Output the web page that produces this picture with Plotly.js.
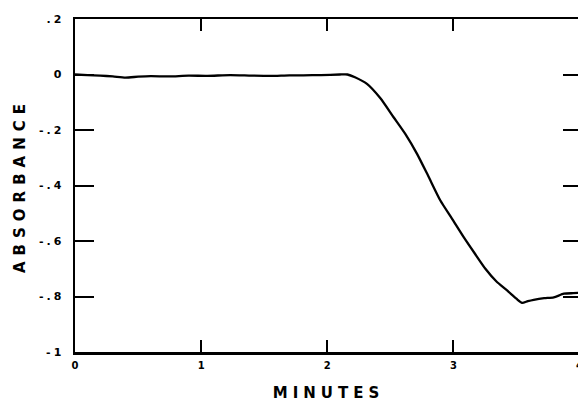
<!DOCTYPE html>
<html>
<head>
<meta charset="utf-8">
<script src="https://cdn.plot.ly/plotly-3.0.1.min.js"></script>
<style>
html, body { margin: 0; padding: 0; overflow: hidden; background: #fff; }
#chart { width: 592px; height: 402px; }
.g-xtitle text { letter-spacing: 5px; }
.g-ytitle text { letter-spacing: 6px; }
.ytick text { letter-spacing: 3px; }
</style>
</head>
<body>
<div id="chart"></div>
<script>
// Time (minutes)
const minutes = [0, 0.1, 0.2, 0.3, 0.4, 0.5, 0.6, 0.75, 0.9, 1.05, 1.23, 1.4, 1.55, 1.7, 1.81, 1.95, 2.1, 2.16,
  2.22, 2.315, 2.42, 2.526, 2.62, 2.712, 2.8, 2.897, 2.99, 3.082, 3.17, 3.254, 3.34, 3.426, 3.5, 3.545,
  3.59, 3.637, 3.72, 3.796, 3.876, 3.95, 4.0];
// Absorbance
const absorbance = [0, -0.002, -0.004, -0.007, -0.011, -0.008, -0.006, -0.007, -0.004, -0.005, -0.002, -0.004,
  -0.005, -0.003, -0.003, -0.002, 0.0, 0.0,
  -0.01, -0.034, -0.085, -0.154, -0.215, -0.286, -0.365, -0.454, -0.52, -0.586, -0.645, -0.700, -0.745,
  -0.778, -0.808, -0.823, -0.817, -0.812, -0.806, -0.803, -0.790, -0.788, -0.787];

const xTickVals = [0, 1, 2, 3, 4];
const xTickText = ['0', '1', '2', '3', '4'];
const yTickVals = [0.2, 0, -0.2, -0.4, -0.6, -0.8, -1];
const yTickText = ['.2', '0', '-.2', '-.4', '-.6', '-.8', '-1'];

const xTickFont = { family: 'DejaVu Sans', size: 10, color: '#000', weight: 'bold' };
const yTickFont = { family: 'DejaVu Sans', size: 11, color: '#000', weight: 'bold' };
const titleFont = { family: 'DejaVu Sans', size: 15, color: '#000', weight: 'bold' };

Plotly.newPlot('chart', [{
  x: minutes,
  y: absorbance,
  type: 'scatter',
  mode: 'lines',
  line: { color: '#000', width: 2.3, shape: 'spline', smoothing: 0.6 },
  hoverinfo: 'skip'
}], {
  width: 592,
  height: 402,
  margin: { l: 75, r: 10, t: 19, b: 50 },
  paper_bgcolor: '#fff',
  plot_bgcolor: '#fff',
  showlegend: false,
  xaxis: {
    range: [0, 4.02],
    tickvals: xTickVals,
    ticktext: xTickText,
    ticks: 'inside',
    ticklen: 12,
    tickwidth: 2,
    tickcolor: '#000',
    showline: true,
    linewidth: 2.5,
    linecolor: '#000',
    mirror: 'ticks',
    showgrid: false,
    zeroline: false,
    tickfont: xTickFont,
    ticklabelstandoff: 2,
    title: { text: 'MINUTES', font: titleFont, standoff: 23 }
  },
  yaxis: {
    range: [-1, 0.2],
    tickvals: yTickVals,
    ticktext: yTickText,
    ticks: 'inside',
    ticklen: 19,
    tickwidth: 2,
    tickcolor: '#000',
    showline: true,
    linewidth: 2.5,
    linecolor: '#000',
    mirror: 'ticks',
    showgrid: false,
    zeroline: false,
    tickfont: yTickFont,
    ticklabelstandoff: 6,
    title: { text: 'ABSORBANCE', font: titleFont, standoff: 10 }
  }
}, { displayModeBar: false, staticPlot: true });
</script>
</body>
</html>
